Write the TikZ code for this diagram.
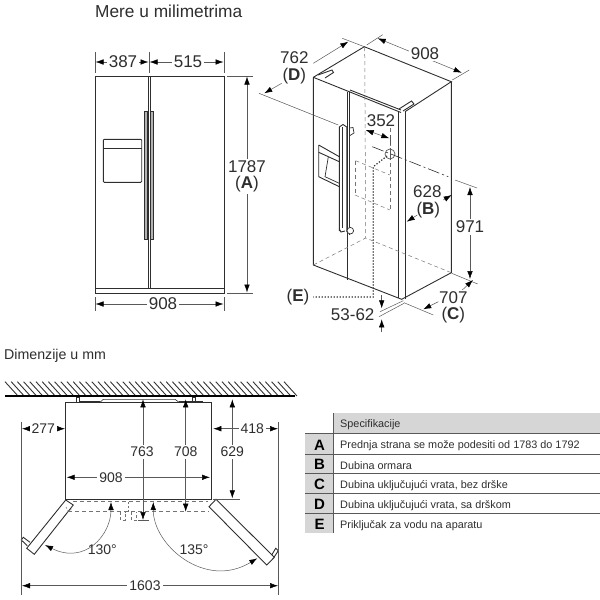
\documentclass[tikz,border=0pt]{standalone}
\usepackage{fontspec}
\setmainfont{Liberation Sans}
\usetikzlibrary{arrows.meta}
\definecolor{ink}{gray}{0.18}
\definecolor{dimink}{gray}{0.35}
\definecolor{cellgrey}{gray}{0.84}
\tikzset{
	body/.style={line width=0.9pt, color=ink},
	thin/.style={line width=0.5pt, color=dimink},
	dashline/.style={line width=0.5pt, color=black!55, dash pattern=on 4pt off 3pt},
	dimline/.style={line width=0.5pt, color=dimink, {Latex[length=8pt,width=5.5pt,color=black]}-{Latex[length=8pt,width=5.5pt,color=black]}},
	tipline/.style={line width=0.5pt, color=dimink, -{Latex[length=8pt,width=5.5pt,color=black]}},
	bigtext/.style={font=\fontsize{17}{17}\selectfont, color=ink, inner sep=1.5pt},
	bigwhite/.style={bigtext, fill=white},
	smalltext/.style={font=\fontsize{14}{14}\selectfont, color=ink, inner sep=2pt},
	smallwhite/.style={smalltext, fill=white},
	rowtext/.style={font=\fontsize{10.85}{10.85}\selectfont, color=ink, anchor=west, inner sep=0pt},
	rowletter/.style={font=\bfseries\fontsize{15}{15}\selectfont, color=black, inner sep=0pt}
}
\begin{document}
\begin{tikzpicture}[x=1pt, y=-1pt]
		\useasboundingbox (0, 0) rectangle (600, 600);
		
		%%%%% TITLES %%%%%
		\node[anchor=west, inner sep=0pt, font=\fontsize{17.3}{17.3}\selectfont, color=ink] (title) at (95, 11) {Mere u milimetrima};
		\node[anchor=west, inner sep=0pt, font=\fontsize{14.2}{14.2}\selectfont, color=ink] (subtitle) at (4, 356) {Dimenzije u mm};
		
		%%%%% FRONT VIEW %%%%%
		\draw[body] (95, 76) rectangle (224, 293);
		\draw[body] (95, 288.5) -- (224, 288.5);
		\draw[body] (148.3, 76) -- (148.3, 288.5);
		\draw[body] (150.3, 76) -- (150.3, 288.5);
		\draw[body, fill=black!30] (144.5, 111) rectangle (147.7, 239);
		\draw[body, fill=black!30] (150.7, 111) rectangle (153.7, 239);
		\draw[body, rounded corners=1pt] (103.3, 139.3) rectangle (141.7, 182.3);
		\draw[body] (103.3, 148.7) -- (141.7, 148.7);
		
		\draw[thin] (95, 52) -- (95, 73);
		\draw[thin] (149, 52) -- (149, 73);
		\draw[thin] (224, 52) -- (224, 73);
		\draw[dimline] (95.5, 62) -- (148.5, 62);
		\draw[dimline] (149.5, 62) -- (223.5, 62);
		\node[bigwhite] (front387) at (123, 62) {387};
		\node[bigwhite] (front515) at (188, 62) {515};
		
		\draw[thin] (95, 297) -- (95, 311);
		\draw[thin] (224, 297) -- (224, 311);
		\draw[dimline] (95.5, 304) -- (223.5, 304);
		\node[bigwhite] (front908) at (163, 304) {908};
		
		\draw[thin] (227, 76) -- (253, 76);
		\draw[thin] (227, 293) -- (253, 293);
		\draw[dimline] (247, 76.5) -- (247, 292.5);
		\node[bigwhite, align=center, inner sep=2pt] (front1787) at (247, 176.5) {1787\\[-1pt](\textbf{A})};
		
		%%%%% SIDE VIEW %%%%%
		\draw[body] (313.3, 77.3) -- (364.3, 46.7) -- (451.3, 81.7) -- (405, 111.7);
		\draw[body] (313.3, 77.3) -- (401, 112.5);
		\draw[body] (313.3, 77.3) -- (313.3, 265) -- (401.7, 299.3) -- (451.3, 272.7) -- (451.3, 81.7);
		\draw[body] (398.7, 112) -- (398.7, 298);
		\draw[body] (405, 111.7) -- (405, 299);
		\draw[body] (350, 90) -- (401, 110);
		\draw[body] (347.7, 92) -- (347.7, 280);
		\draw[body] (349.5, 92) -- (349.5, 235);
		\draw[body] (318, 75) -- (332, 70) -- (333.5, 72.5) -- (325, 78);
		\draw[body] (399, 109) -- (411.5, 101) -- (414, 104) -- (403, 111);
		
		\draw[body] (339.3, 231) -- (339.3, 127) -- (343, 124.5) -- (346.7, 127) -- (346.7, 232);
		\draw[body] (342.7, 127) -- (342.7, 228);
		\draw[body] (339.3, 229) -- (341, 232) -- (345, 231);
		\draw[body, line width=0.7pt] (349.5, 128) -- (353, 127.5) -- (354, 133) -- (350, 135.5);
		\draw[body, line width=0.7pt, fill=white] (350.3, 230.7) circle (3.3);
		
		\draw[body] (318.7, 145) -- (339.3, 156.7);
		\draw[body] (318.7, 152.3) -- (339.3, 161.7);
		\draw[body] (318.7, 145) -- (318.7, 176.7) -- (339.3, 186.7);
		\draw[body, line width=0.7pt] (328.3, 157) -- (325, 176.7) -- (339.3, 183.3);
		
		\draw[dashline] (364.7, 47) -- (365.7, 238);
		\draw[dashline] (313.3, 265) -- (365.7, 238) -- (451.3, 272.7);
		\draw[dashline] (390, 128) -- (390, 210);
		\draw[dashline] (355.7, 160.7) -- (390, 175);
		\draw[dashline] (355, 195) -- (390, 210);
		\draw[dashline] (355.7, 160.7) -- (355.7, 195);
		
		\draw[line width=1.2pt, color=ink, dash pattern=on 1.3pt off 1.7pt] (387, 156) -- (373.3, 166.7) -- (373.3, 297) -- (313.3, 297);
		\draw[dimink, line width=0.7pt] (390, 154) circle (5);
		\draw[dimink, line width=0.5pt] (390, 148) -- (390, 160);
		\draw[body, line width=0.6pt, dash pattern=on 12pt off 3pt on 2pt off 3pt] (372.3, 146.7) -- (448.3, 176.7);
		
		\draw[thin] (366.7, 45) -- (382.7, 34.7);
		\draw[thin] (452.3, 80) -- (469.3, 70);
		\draw[dimline] (377.7, 38.3) -- (461.7, 72.7);
		\node[bigwhite] (side908) at (425, 53.3) {908};
		
		\draw[thin] (342.3, 38.3) -- (364.3, 46.7);
		\draw[thin] (259, 93.3) -- (338.3, 125);
		\draw[tipline] (313.3, 63.3) -- (348.3, 41.7);
		\draw[tipline] (281.7, 83.3) -- (264.3, 93.3);
		\node[bigtext] (side762) at (294.3, 57.3) {762};
		\node[bigtext] (sideD) at (294.3, 76) {(\textbf{D})};
		
		\draw[dimline] (365.7, 130) -- (389.3, 138.3);
		\draw[thin] (390, 135) -- (390, 145);
		\node[bigtext] (side352) at (381, 120.7) {352};
		
		\draw[thin] (455, 180) -- (477, 188);
		\draw[thin] (451.7, 273.3) -- (477.7, 284);
		\draw[dimline] (470, 187) -- (470, 279);
		\node[bigwhite] (side971) at (470, 227) {971};
		
		\draw[tipline] (443.3, 200) -- (451.7, 195);
		\draw[tipline] (417.3, 215) -- (406.7, 221.7);
		\node[bigtext] (side628) at (427.3, 191.7) {628};
		\node[bigtext] (sideB) at (428.3, 210) {(\textbf{B})};
		
		\draw[thin] (404, 302.7) -- (433.3, 315);
		\draw[tipline] (438.3, 301.7) -- (423.3, 309.3);
		\draw[tipline] (462.3, 290) -- (473, 280);
		\node[bigtext] (side707) at (453.3, 297.3) {707};
		\node[bigtext] (sideC) at (453.3, 315) {(\textbf{C})};
		
		\draw[thin] (380, 311.7) -- (403.3, 300.7);
		\draw[thin] (379, 316.7) -- (404, 303.3);
		\draw[tipline] (381.7, 295) -- (381.7, 308.3);
		\draw[tipline] (381.7, 331.7) -- (381.7, 319.3);
		\node[bigtext] (side5362) at (352.7, 315) {53-62};
		\node[bigtext] (sideE) at (298, 297) {(\textbf{E})};
		
		%%%%% TOP VIEW %%%%%
		\foreach \hx in {5, 11.2, ..., 285}
			\draw[line width=0.9pt, color=black!80] (\hx, 381.7) -- (\hx + 13, 396);
		\draw[body, line width=1.3pt, color=black] (5, 396) -- (295, 396);
		
		\draw[body] (65.7, 402.3) rectangle (211.7, 499);
		\draw[body, line width=0.6pt] (76, 402.3) -- (76, 397) -- (79, 397) -- (79, 402.3);
		\draw[body, line width=0.6pt] (192.7, 402.3) -- (192.7, 397) -- (195.7, 397) -- (195.7, 402.3);
		\draw[body, line width=0.6pt] (79, 401) -- (100, 401);
		\draw[body, line width=0.6pt] (179, 401) -- (203, 401);
		\draw[body, line width=0.6pt] (100, 402.3) -- (103.3, 399.3) -- (175, 399.3) -- (179, 402.3);
		
		\draw[dashline] (73, 501) -- (208, 501);
		\draw[dashline] (68, 511.7) -- (209, 511.7);
		\draw[dashline, dash pattern=on 2pt off 2pt] (128, 501.7) -- (128, 511.7);
		\draw[dashline, dash pattern=on 3pt off 2pt] (120.7, 512) -- (120.7, 520) -- (125, 520) -- (125, 512);
		\draw[dashline, dash pattern=on 3pt off 2pt] (131.7, 512) -- (131.7, 520) -- (136.7, 520) -- (136.7, 512);
		
		\draw[body] (65.7, 500) -- (73.3, 505) -- (34.3, 554.3) -- (26.7, 548.3) -- cycle;
		\draw[body] (30, 542.3) -- (23.3, 537.3) -- (21.3, 540) -- (27.3, 545.7);
		\draw[dashline, dash pattern=on 2pt off 1.5pt] (66, 507) -- (68.5, 511.5) -- (72.5, 508);
		\draw[body] (216, 499.3) -- (209, 506.7) -- (266.7, 565) -- (274.3, 557.3) -- cycle;
		\draw[body] (271.7, 555) -- (275.7, 548.3) -- (278.3, 550.7) -- (274, 557.3);
		
		\draw[dimline] (143, 399.3) -- (143, 520);
		\draw[thin] (138, 520) -- (149, 520);
		\node[smallwhite] (top763) at (142, 451.7) {763};
		\draw[dimline] (185.7, 399.3) -- (185.7, 511.7);
		\node[smallwhite] (top708) at (185.7, 451.7) {708};
		\draw[dimline] (232.3, 399.3) -- (232.3, 498.3);
		\draw[thin] (213, 499) -- (240, 499);
		\node[smallwhite] (top629) at (232.3, 451.7) {629};
		
		\draw[dimline] (66.7, 477.3) -- (210, 477.3);
		\node[smallwhite] (top908) at (111, 477.3) {908};
		
		\draw[thin] (21.7, 421.7) -- (21.7, 595);
		\draw[thin] (278.3, 421.7) -- (278.3, 595);
		\draw[dimline] (22, 428.7) -- (65, 428.7);
		\node[smallwhite] (top277) at (43.3, 428.7) {277};
		\draw[dimline] (213.3, 428.7) -- (278, 428.7);
		\node[smallwhite] (top418) at (252.3, 428.7) {418};
		\draw[dimline] (22, 585.7) -- (278, 585.7);
		\node[smallwhite] (top1603) at (145, 585.7) {1603};
		
		\draw[dimline] (111, 502) .. controls (111, 535) and (85, 565) .. (45, 545);
		\draw[dimline] (153.3, 502) .. controls (153, 545) and (205, 590) .. (257.3, 558.3);
		\node[smalltext] (angle130) at (102.3, 550) {130°};
		\node[smalltext] (angle135) at (194, 550) {135°};
		
		%%%%% TABLE %%%%%
		\fill[cellgrey] (333.3, 413.3) rectangle (600, 433.3);
		\fill[cellgrey] (305, 433.3) rectangle (333.3, 533.3);
		\foreach \rowy in {433.3, 454, 473.5, 493.5, 513.5}
			\draw[thin, line width=0.7pt] (305, \rowy) -- (600, \rowy);
		\draw[thin, line width=1pt] (333.3, 413.3) -- (333.3, 533.3);
		
		\node[rowtext] (spec) at (340, 425) {Specifikacije};
		\node[rowletter] (rowA) at (319.5, 445) {A};
		\node[rowtext] (textA) at (340, 446) {Prednja strana se može podesiti od 1783 do 1792};
		\node[rowletter] (rowB) at (319.5, 464.5) {B};
		\node[rowtext] (textB) at (340, 466) {Dubina ormara};
		\node[rowletter] (rowC) at (319.5, 484.5) {C};
		\node[rowtext] (textC) at (340, 486) {Dubina uključujući vrata, bez drške};
		\node[rowletter] (rowD) at (319.5, 504) {D};
		\node[rowtext] (textD) at (340, 506) {Dubina uključujući vrata, sa drškom};
		\node[rowletter] (rowE) at (319.5, 524) {E};
		\node[rowtext] (textE) at (340, 526) {Priključak za vodu na aparatu};
		
		%%%%% END %%%%%
	\end{tikzpicture}
\end{document}
